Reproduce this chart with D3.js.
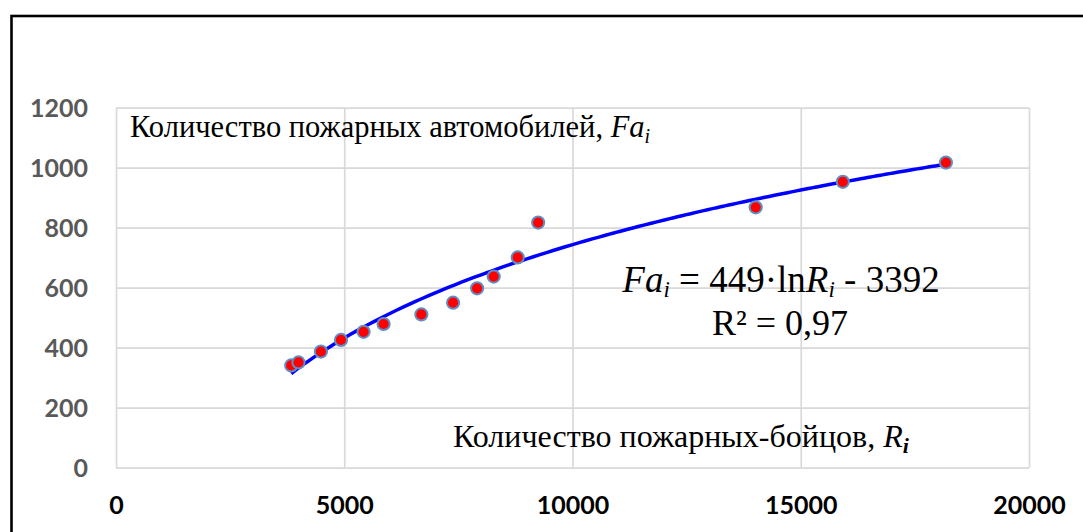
<!DOCTYPE html>
<html>
<head>
<meta charset="utf-8">
<script src="https://cdn.jsdelivr.net/npm/d3@7/dist/d3.min.js"></script>
<style>
  html, body { margin: 0; padding: 0; background: #ffffff; }
  svg { display: block; }
</style>
</head>
<body>
<svg id="chart" width="1083" height="532"></svg>
<script>
// ---- data ----
const firefighters = [3838, 3998, 4489, 4928, 5423, 5862, 6689, 7384, 7910, 8274, 8800, 9248, 14013, 15921, 18180];
const fireTrucks   = [341, 351, 387, 426, 453, 479, 511, 550, 598, 637, 701, 817, 868, 953, 1017];
const xTickValues = [0, 5000, 10000, 15000, 20000];
const yTickValues = [0, 200, 400, 600, 800, 1000, 1200];
// logarithmic trend line shown in the chart: Fa = 449·ln(R) - 3392
const trendA = 449;
const trendB = -3392;

const yLabelText = "Количество пожарных автомобилей, ";
const xLabelText = "Количество пожарных-бойцов, ";
const r2Text = "R² = 0,97";

// ---- layout ----
const svg = d3.select("#chart");
const plotL = 116, plotR = 1029, plotT = 107.7, plotB = 467.7;

const x = d3.scaleLinear().domain([0, 20000]).range([plotL, plotR]);
const y = d3.scaleLinear().domain([0, 1200]).range([plotB, plotT]);

// outer frame (extends past right/bottom edges)
svg.append("rect")
  .attr("x", 11.5).attr("y", 16)
  .attr("width", 1200).attr("height", 700)
  .attr("fill", "none").attr("stroke", "#000").attr("stroke-width", 2.6);

const gridColor = "#d9d9d9";
const tickFont = "Lato, 'Open Sans', sans-serif";

// Y axis with gridlines
const yAxis = svg.append("g")
  .attr("transform", `translate(${plotL},0)`)
  .call(d3.axisLeft(y).tickValues(yTickValues).tickSize(-(plotR - plotL)).tickPadding(28).tickFormat(d3.format("d")));
yAxis.select(".domain").remove();
yAxis.selectAll(".tick line").attr("stroke", gridColor).attr("stroke-width", 1.7);
yAxis.selectAll(".tick text")
  .attr("fill", "#595959")
  .style("font-family", tickFont)
  .style("font-weight", "700")
  .style("font-size", "25px")
  .attr("dy", "0.36em");

// X axis with gridlines
const xAxis = svg.append("g")
  .attr("transform", `translate(0,${plotB})`)
  .call(d3.axisBottom(x).tickValues(xTickValues).tickSize(-(plotB - plotT)).tickPadding(28.5).tickFormat(d3.format("d")));
xAxis.select(".domain").remove();
xAxis.selectAll(".tick line").attr("stroke", gridColor).attr("stroke-width", 1.7);
xAxis.selectAll(".tick text")
  .attr("fill", "#000")
  .style("font-family", tickFont)
  .style("font-weight", "700")
  .style("font-size", "25px")
  .attr("dy", "0.71em");

// trend line
const xMin = d3.min(firefighters), xMax = d3.max(firefighters);
const trendPts = d3.range(0, 101).map(i => {
  const r = xMin + (xMax - xMin) * i / 100;
  return [r, trendA * Math.log(r) + trendB];
});
svg.append("path")
  .datum(trendPts)
  .attr("fill", "none")
  .attr("stroke", "#0000ff")
  .attr("stroke-width", 3.5)
  .attr("d", d3.line().x(d => x(d[0])).y(d => y(d[1])).curve(d3.curveMonotoneX));

// data points
svg.append("g").selectAll("circle")
  .data(firefighters.map((r, i) => ({ r, f: fireTrucks[i] })))
  .join("circle")
  .attr("cx", d => x(d.r))
  .attr("cy", d => y(d.f))
  .attr("r", 6.1)
  .attr("fill", "#ff0000")
  .attr("stroke", "#5f8fc4")
  .attr("stroke-width", 2);

// annotations
const serif = "'Liberation Serif', 'Times New Roman', serif";

const t1 = svg.append("text")
  .attr("x", 130).attr("y", 137)
  .style("font-family", serif).style("font-size", "30.5px").attr("fill", "#000");
t1.append("tspan").text(yLabelText);
t1.append("tspan").style("font-style", "italic").text("Fa");
t1.append("tspan").style("font-style", "italic").style("font-size", "20px").attr("dy", 6).text("i");

const t2 = svg.append("text")
  .attr("x", 453).attr("y", 447)
  .style("font-family", serif).style("font-size", "32px").attr("fill", "#000");
t2.append("tspan").text(xLabelText);
t2.append("tspan").style("font-style", "italic").text("R");
t2.append("tspan").style("font-style", "italic").style("font-weight", "700").style("font-size", "22px").attr("dy", 6).text("i");

// equation line
const eq = svg.append("text")
  .attr("x", 781).attr("y", 292)
  .attr("text-anchor", "middle")
  .style("font-family", serif).style("font-size", "37px").attr("fill", "#000");
eq.append("tspan").style("font-style", "italic").text("Fa");
eq.append("tspan").style("font-style", "italic").style("font-size", "23px").attr("dy", 5).text("i");
eq.append("tspan").attr("dy", -5).text(" = " + trendA + "·ln");
eq.append("tspan").style("font-style", "italic").text("R");
eq.append("tspan").style("font-style", "italic").style("font-size", "23px").attr("dy", 5).text("i");
eq.append("tspan").attr("dy", -5).text(" - " + Math.abs(trendB));

// R² line
svg.append("text")
  .attr("x", 780).attr("y", 334.5)
  .attr("text-anchor", "middle")
  .style("font-family", serif).style("font-size", "36px").attr("fill", "#000")
  .text(r2Text);
</script>
</body>
</html>
